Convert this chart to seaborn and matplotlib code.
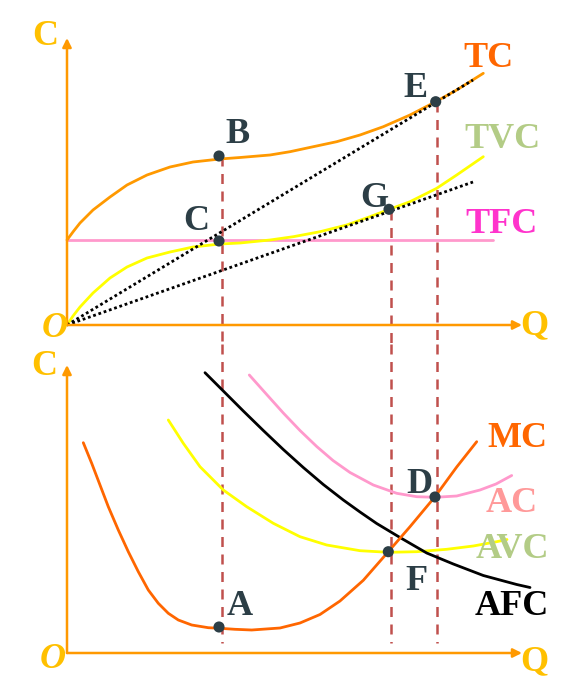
import numpy as np
import pandas as pd
import seaborn as sns
import matplotlib.pyplot as plt

sns.set_style("white")
plt.rcParams["font.family"] = ["Liberation Serif", "DejaVu Serif"]

# ---- top panel: total costs (Q, C) ----
tc_q = [0, 0.63, 1.3, 2.6, 4.3, 6.0, 8.0, 10.3, 12.6, 15.3, 17.3, 20.3, 22.3,
        24.63, 26.97, 29.3, 31.63, 34.3, 36.87, 38.97, 41.63]
tc = [8.5, 9.35, 10.2, 11.5, 12.8, 14.0, 15.0, 15.8, 16.3, 16.6, 16.75, 17.0, 17.33,
      17.83, 18.33, 19.0, 19.83, 21.0, 22.33, 23.5, 25.17]
tvc_q = [0, 0.6, 1.3, 2.6, 4.3, 6.0, 8.0, 10.3, 12.6, 15.3, 17.3, 20.3, 22.63,
         25.3, 27.97, 30.3, 32.23, 34.3, 36.97, 38.97, 41.63]
tvc = [0, 0.9, 1.8, 3.2, 4.7, 5.8, 6.7, 7.3, 7.8, 8.1, 8.2, 8.5, 8.83,
       9.33, 10.0, 10.83, 11.57, 12.33, 13.67, 15.0, 16.83]
tfc_q = [0, 42.6]
tfc = [8.5, 8.5]

# rays from the origin through E and G
ray_e_q, ray_e_c = [0, 40.6], [0, 24.5]
ray_g_q, ray_g_c = [0, 40.6], [0, 14.3]

top_pts = {"B": (15.2, 16.9), "C": (15.2, 8.4), "G": (32.2, 11.57), "E": (36.87, 22.33)}

# ---- bottom panel: average / marginal costs ----
mc_q = [1.63, 2.47, 3.3, 4.13, 5.13, 6.13, 7.13, 8.13, 9.13, 10.13, 11.13, 12.47,
        14.13, 15.3, 16.8, 18.47, 21.3, 23.3, 25.3, 27.3, 29.63, 32.13, 34.3,
        36.8, 38.97, 40.97]
mc = [21.03, 18.97, 16.8, 14.63, 12.3, 10.13, 8.13, 6.3, 4.97, 3.97, 3.3, 2.8,
      2.53, 2.47, 2.37, 2.3, 2.5, 3.0, 3.85, 5.2, 7.27, 10.13, 12.63,
      15.63, 18.6, 21.13]
avc_q = [10.13, 11.63, 13.3, 15.63, 17.97, 20.63, 23.3, 25.97, 29.3, 32.13,
         34.97, 37.97, 40.63, 42.97, 44.0]
avc = [23.3, 20.97, 18.63, 16.3, 14.63, 12.97, 11.63, 10.8, 10.23, 10.07,
       10.13, 10.37, 10.7, 11.13, 11.35]
ac_q = [18.23, 19.97, 21.63, 23.3, 24.97, 26.6, 28.3, 30.63, 32.97, 34.97,
        36.8, 38.97, 41.3, 42.9, 44.47]
ac = [27.8, 25.85, 24.0, 22.25, 20.65, 19.25, 18.05, 16.8, 15.97, 15.63,
      15.57, 15.7, 16.3, 16.9, 17.75]
afc_q = [13.8, 15.63, 17.63, 19.63, 21.63, 23.63, 25.63, 27.63, 29.3, 30.97,
         33.3, 35.97, 38.63, 41.63, 44.97, 46.3]
afc = [28.03, 26.2, 24.2, 22.25, 20.35, 18.55, 16.85, 15.3, 14.1, 12.95,
       11.55, 10.0, 8.9, 7.75, 6.85, 6.55]

bot_pts = {"A": (15.2, 2.6), "F": (32.13, 10.13), "D": (36.8, 15.6)}

# dashed guides: x position, top end (in top panel units)
guide_q = [15.5, 32.4, 37.0]
guide_top = [16.9, 11.5, 22.3]
guide_bottom = 1.0

AXIS = "#FF9900"
GOLD = "#FFC000"
DARK = "#2C3E46"
GREEN = "#B3CC86"
LW = 2.0

fig = plt.figure(figsize=(5.8, 6.88), dpi=100)
ax_top = fig.add_axes([0, 0.5, 1, 0.5])
ax_bot = fig.add_axes([0, 0, 1, 0.5])
ax_top.set_xlim(-6.7, 51.3)
ax_top.set_ylim(-1.9, 32.5)
ax_bot.set_xlim(-6.7, 51.3)
ax_bot.set_ylim(-3.5, 30.9)


def draw_axes(ax, ytop):
    for xy in [(0, ytop), (45.5, 0)]:
        ax.annotate("", xy=xy, xytext=(0, 0),
                    arrowprops=dict(arrowstyle="-|>", color=AXIS, lw=1.8,
                                    mutation_scale=13, shrinkA=0, shrinkB=0))


def label(ax, x, y, s, color, style="normal"):
    ax.text(x, y, s, color=color, fontsize=26, fontweight="bold", fontstyle=style,
            ha="center", va="baseline")


# guides
for q, top in zip(guide_q, guide_top):
    ax_top.plot([q, q], [top, -1.9], color="#C0504D", lw=1.8, ls=(0, (4, 3)), zorder=1)
    ax_bot.plot([q, q], [30.9, guide_bottom], color="#C0504D", lw=1.8, ls=(0, (4, 3)), zorder=1)

draw_axes(ax_top, 28.7)
draw_axes(ax_bot, 28.8)

# top curves
sns.lineplot(x=tfc_q, y=tfc, ax=ax_top, color="#FF99CC", lw=LW)
sns.lineplot(x=tvc_q, y=tvc, ax=ax_top, color="#FFFF00", lw=LW)
sns.lineplot(x=tc_q, y=tc, ax=ax_top, color="#FF9900", lw=LW)
ax_top.plot(ray_e_q, ray_e_c, color="black", lw=2, ls=(0, (1, 1)))
ax_top.plot(ray_g_q, ray_g_c, color="black", lw=2, ls=(0, (1, 1)))

# bottom curves
sns.lineplot(x=ac_q, y=ac, ax=ax_bot, color="#FF99CC", lw=LW)
sns.lineplot(x=avc_q, y=avc, ax=ax_bot, color="#FFFF00", lw=LW)
sns.lineplot(x=afc_q, y=afc, ax=ax_bot, color="black", lw=LW)
sns.lineplot(x=mc_q, y=mc, ax=ax_bot, color="#FF6600", lw=LW)

for ax in (ax_top, ax_bot):
    for line in ax.get_lines():
        line.set_solid_joinstyle("round")
        line.set_solid_capstyle("round")

for ax, pts in [(ax_top, top_pts), (ax_bot, bot_pts)]:
    df = pd.DataFrame(pts, index=["q", "c"]).T
    sns.scatterplot(data=df, x="q", y="c", ax=ax, color=DARK, s=64,
                    edgecolor="none", zorder=5)

# text
label(ax_top, -2.2, 28.0, "C", GOLD)
label(ax_top, -1.2, -1.2, "O", GOLD, "italic")
label(ax_top, 46.7, -0.9, "Q", GOLD)
label(ax_top, 42.1, 25.8, "TC", "#FF6600")
label(ax_top, 43.5, 17.7, "TVC", GREEN)
label(ax_top, 43.5, 9.2, "TFC", "#FF33CC")
label(ax_top, 34.8, 22.8, "E", DARK)
label(ax_top, 30.7, 11.8, "G", DARK)
label(ax_top, 17.1, 18.2, "B", DARK)
label(ax_top, 12.9, 9.5, "C", DARK)

label(ax_bot, -2.3, 27.8, "C", GOLD)
label(ax_bot, -1.4, -1.5, "O", GOLD, "italic")
label(ax_bot, 46.7, -1.7, "Q", GOLD)
label(ax_bot, 45.0, 20.6, "MC", "#FF6600")
label(ax_bot, 44.5, 14.1, "AC", "#FF9999")
label(ax_bot, 44.5, 9.5, "AVC", GREEN)
label(ax_bot, 44.5, 3.8, "AFC", "black")
label(ax_bot, 35.2, 16.0, "D", DARK)
label(ax_bot, 34.9, 6.3, "F", DARK)
label(ax_bot, 17.3, 3.8, "A", DARK)

for ax in (ax_top, ax_bot):
    ax.set_axis_off()
    ax.patch.set_alpha(0)

fig.savefig("out.png", dpi=100)
